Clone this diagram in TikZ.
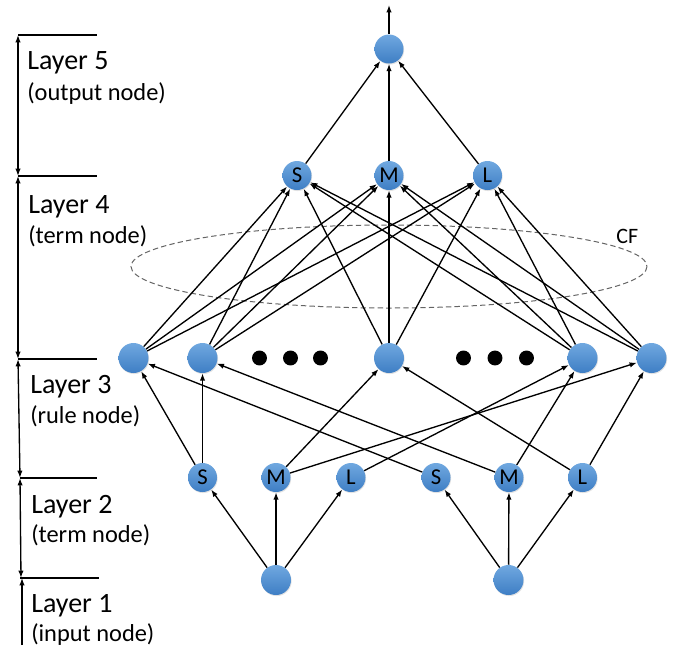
\documentclass[tikz,border=0pt]{standalone}
\usepackage{fontspec}
\setmainfont{Carlito}
\usetikzlibrary{arrows.meta,shadows}
\definecolor{nodetop}{RGB}{112,168,224}
\definecolor{nodebot}{RGB}{62,126,196}
\definecolor{cfgray}{RGB}{100,100,100}
\tikzset{
  neuron/.style={circle, minimum size=21.75pt, inner sep=0pt, draw=none,
    top color=nodetop, bottom color=nodebot, text=black,
    font=\fontsize{17}{17}\selectfont,
    drop shadow={opacity=0.22, shadow xshift=0.5pt, shadow yshift=-0.8pt}},
  bigneuron/.style={neuron, minimum size=22.5pt},
  conn/.style={-{Latex[length=5.5pt,width=4pt]}, line width=1pt},
  brk/.style={{Latex[length=5.5pt,width=4pt]}-{Latex[length=5.5pt,width=4pt]}, line width=1pt},
  brkline/.style={line width=1pt},
  laytitle/.style={anchor=base west, inner sep=0pt, font=\fontsize{21}{21}\selectfont},
  laysub/.style={anchor=base west, inner sep=0pt, font=\fontsize{18.3}{18.3}\selectfont},
  bigdot/.style={fill=black}
}
\begin{document}
\begin{tikzpicture}[x=0.75pt,y=-0.75pt]
\useasboundingbox (0,0) rectangle (677,654);

% CF ellipse
\draw[cfgray, line width=0.75pt, dash pattern=on 4pt off 2.4pt] (389,266.5) ellipse [x radius=258, y radius=41.5];
\node[anchor=base west, inner sep=0pt, font=\fontsize{16.5}{16.5}\selectfont] (cf) at (616,243.5) {CF};

% nodes
\node[neuron] (out) at (389,49) {};
\coordinate (top) at (389,5);

\node[neuron] (S4) at (297,175.5) {S};
\node[neuron] (M4) at (389,175.5) {M};
\node[neuron] (L4) at (487.5,175.5) {L};

\node[bigneuron] (R1) at (133.5,358) {};
\node[bigneuron] (R2) at (202.5,358) {};
\node[bigneuron] (R3) at (389,358) {};
\node[bigneuron] (R4) at (582.5,358) {};
\node[bigneuron] (R5) at (651.5,358) {};

\node[neuron] (S1) at (202.5,477.5) {S};
\node[neuron] (M1) at (276,477.5) {M};
\node[neuron] (L1) at (351,477.5) {L};
\node[neuron] (S2) at (436,477.5) {S};
\node[neuron] (M2) at (509,477.5) {M};
\node[neuron] (L2) at (582.5,477.5) {L};

\node[bigneuron] (I1) at (276,580) {};
\node[bigneuron] (I2) at (508.5,580) {};

% dots
\foreach \x in {259.5,290.5,320.5,463.5,495,526.5}
  \fill[bigdot] (\x,358) circle [radius=5.6pt];

% connections
\draw[conn] (out) -- (top);
\foreach \t in {S4,M4,L4} \draw[conn] (\t) -- (out);
\foreach \r in {R1,R2,R3,R4,R5}
  \foreach \t in {S4,M4,L4}
    \draw[conn] (\r) -- (\t);
\draw[conn] (S1) -- (R1);
\draw[conn] (S2) -- (R1);
\draw[conn] (S1) -- (R2);
\draw[conn] (M2) -- (R2);
\draw[conn] (M1) -- (R3);
\draw[conn] (L2) -- (R3);
\draw[conn] (L1) -- (R4);
\draw[conn] (M2) -- (R4);
\draw[conn] (M1) -- (R5);
\draw[conn] (L2) -- (R5);
\foreach \t in {S1,M1,L1} \draw[conn] (I1) -- (\t);
\foreach \t in {S2,M2,L2} \draw[conn] (I2) -- (\t);

% layer brackets
\coordinate (h1a) at (18,35);  \coordinate (h1b) at (97,35);
\coordinate (h2a) at (18,176); \coordinate (h2b) at (97,176);
\coordinate (h3a) at (18,359); \coordinate (h3b) at (97,359);
\coordinate (h4a) at (20,478); \coordinate (h4b) at (97,478);
\coordinate (h5a) at (20,578); \coordinate (h5b) at (99,578);
\coordinate (v1) at (22,578); \coordinate (v0) at (22,645);
\draw[brkline] (h1a) -- (h1b);
\draw[brkline] (h2a) -- (h2b);
\draw[brkline] (h3a) -- (h3b);
\draw[brkline] (h4a) -- (h4b);
\draw[brkline] (h5a) -- (h5b);
\draw[brk] (h1a) -- (h2a);
\draw[brk] (h2a) -- (h3a);
\draw[brk] (h3a) -- (h4a);
\draw[brk] (h4a) -- ([xshift=0.75pt]h5a);
\draw[conn] (v0) -- (v1);

% layer labels
\node[laytitle] (t5) at (27,69) {Layer 5};
\node[laysub] (s5) at (27,100) {(output node)};
\node[laytitle] (t4) at (28,213) {Layer 4};
\node[laysub] (s4) at (28,243) {(term node)};
\node[laytitle] (t3) at (30,393) {Layer 3};
\node[laysub] (s3) at (30,423) {(rule node)};
\node[laytitle] (t2) at (31,513) {Layer 2};
\node[laysub] (s2) at (31,542) {(term node)};
\node[laytitle] (t1) at (31,612) {Layer 1};
\node[laysub] (s1) at (31,641) {(input node)};
\end{tikzpicture}
\end{document}
